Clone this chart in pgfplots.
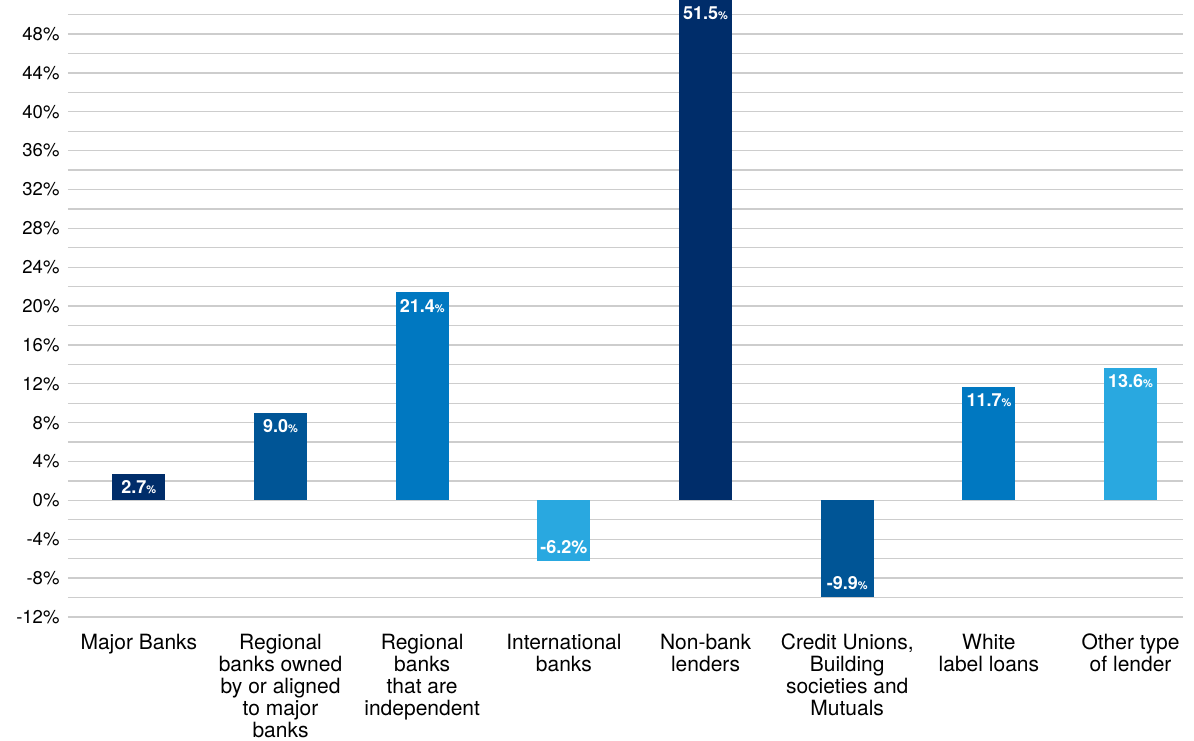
\documentclass[border=0pt]{standalone}
\usepackage{fontspec}
\setmainfont{TeX Gyre Heros}
\usepackage{pgfplots}
\pgfplotsset{compat=1.18}
\definecolor{navy}{HTML}{002D6A}
\definecolor{midblue}{HTML}{005596}
\definecolor{barblue}{HTML}{0078C1}
\definecolor{lightblue}{HTML}{29A8E0}
\definecolor{gridc}{HTML}{CDCDCD}
\newcommand{\pct}{{\fontsize{11}{11}\selectfont\%}}
\begin{document}
\begin{tikzpicture}
\path[use as bounding box] (-68pt,-123pt) rectangle (1126pt,617pt);
\begin{axis}[
  at={(0,0)}, anchor=south west,
  width=1115pt, height=617pt, scale only axis,
  xmin=-0.5, xmax=7.37, ymin=-12, ymax=51.5,
  ybar, bar width=53pt, bar shift=0pt,
  axis line style={draw=none}, tick style={draw=none},
  ytick={-12,-8,...,48}, minor ytick={-10,-6,...,50},
  grid=both,
  major grid style={gridc, line width=1.3pt},
  minor grid style={gridc, line width=1.3pt},
  extra y ticks={0}, extra y tick labels={},
  extra y tick style={grid style={draw=black!35, line width=2pt}},
  yticklabel={\pgfmathprintnumber{\tick}\%},
  /pgf/number format/assume math mode=true,
  yticklabel style={font=\fontsize{18.5}{20}\selectfont, xshift=-5pt},
  xtick={0,...,7},
  xticklabels={{Major Banks},{Regional\\banks owned\\by or aligned\\to major\\banks},{Regional\\banks\\that are\\independent},{International\\banks},{Non-bank\\lenders},{Credit Unions,\\Building\\societies and\\Mutuals},{White\\label loans},{Other type\\of lender}},
  xticklabel style={font=\fontsize{21}{22}\selectfont, align=center, anchor=north, yshift=-9pt},
  xmajorgrids=false, xminorgrids=false,
  nodes near coords={\pgfmathprintnumber[fixed,fixed zerofill,precision=1]{\pgfplotspointmeta}\pct},
  nodes near coords style={font=\bfseries\fontsize{18}{18}\selectfont, text=white},
  every node near coord/.append style={/pgf/number format/assume math mode=true},
  clip=false,
]
\addplot[fill=navy, draw=none, every node near coord/.append style={anchor=north, yshift=-3pt}] coordinates {(0,2.7)};
\addplot[fill=midblue, draw=none, every node near coord/.append style={anchor=north, yshift=-3pt}] coordinates {(1,9.0)};
\addplot[fill=barblue, draw=none, every node near coord/.append style={anchor=north, yshift=-3pt}] coordinates {(2,21.4)};
\addplot[fill=lightblue, draw=none, nodes near coords={\pgfmathprintnumber[fixed,fixed zerofill,precision=1]{\pgfplotspointmeta}\%}, every node near coord/.append style={anchor=south, yshift=3pt}] coordinates {(3,-6.2)};
\addplot[fill=navy, draw=none, every node near coord/.append style={anchor=north, yshift=-3pt}] coordinates {(4,51.5)};
\addplot[fill=midblue, draw=none, every node near coord/.append style={anchor=south, yshift=3pt}] coordinates {(5,-9.9)};
\addplot[fill=barblue, draw=none, every node near coord/.append style={anchor=north, yshift=-3pt}] coordinates {(6,11.7)};
\addplot[fill=lightblue, draw=none, every node near coord/.append style={anchor=north, yshift=-3pt}] coordinates {(7,13.6)};
\end{axis}
\end{tikzpicture}
\end{document}
